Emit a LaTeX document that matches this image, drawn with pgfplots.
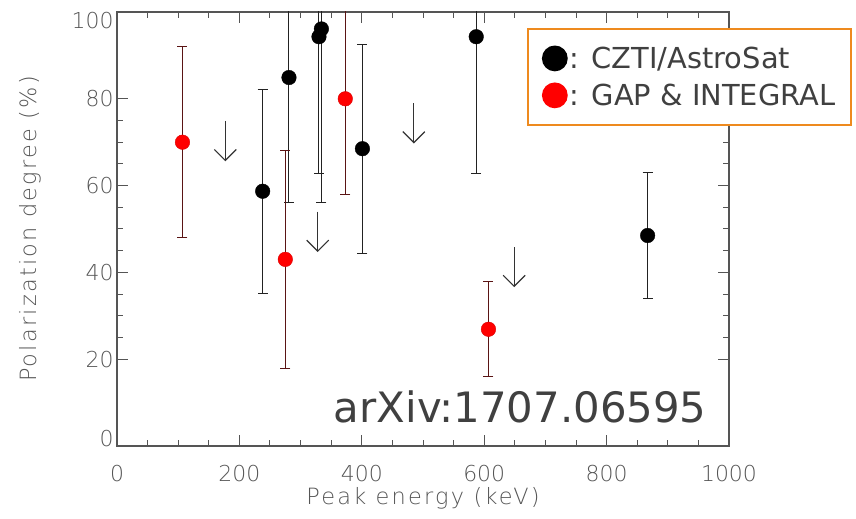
\documentclass[border=0pt]{standalone}
\usepackage{fontspec}
\usepackage{pgfplots}
\usepackage{pgfplotstable}
\pgfplotsset{compat=1.18}
\usetikzlibrary{arrows.meta}
\setmainfont{DejaVu Sans}
\newfontfamily\thinfont{DejaVu Sans ExtraLight}
\newfontfamily\thinlabelfont[LetterSpace=10]{DejaVu Sans ExtraLight}

\definecolor{axisgray}{HTML}{555555}
\definecolor{textgray}{HTML}{404040}
\definecolor{legorange}{HTML}{EE8A1E}
\definecolor{errred}{HTML}{5A1414}
\definecolor{errblack}{HTML}{222222}
\definecolor{arrowgray}{HTML}{333333}

% CZTI/AstroSat: peak energy (keV), polarization degree (%), 1-sigma error
\pgfplotstableread{
x    y     e
238  58.7  23.5
281  84.9  28.8
330  94.3  31.5
334  96.1  40.0
401  68.5  24.1
587  94.3  31.4
867  48.5  14.6
}\czti

% GAP and INTEGRAL measurements
\pgfplotstableread{
x    y     e
107  70.0  22.0
275  43.0  25.1
373  80.0  22.1
607  26.9  11.0
}\gapint

% upper limits (start of the arrow) and arrow length
\pgfplotstableread{
x    y     v
177  74.9  -9.3
328  54.0  -9.3
485  79.0  -9.3
649  45.8  -9.2
}\ulim

\begin{document}
\begin{tikzpicture}
\begin{axis}[
  name=ax,
  width=612bp, height=434bp, scale only axis,
  xmin=0, xmax=1000, ymin=0, ymax=100,
  xtick={0,200,...,1000}, minor x tick num=3,
  ytick={20,40,60,80}, minor y tick num=3,
  extra y ticks={0,100},
  extra y tick labels={\smash{0},\smash{\raisebox{-\height}{100}}},
  tick align=inside,
  major tick length=11bp, minor tick length=6bp,
  axis line style={axisgray, line width=1.3bp},
  tick style={axisgray, line width=1bp},
  /pgf/number format/assume math mode=true,
  /pgf/number format/1000 sep={},
  ticklabel style={font=\thinfont\fontsize{22}{26}\selectfont, text=axisgray},
  xticklabel style={yshift=-16bp},
  xlabel={Peak energy (keV)},
  ylabel={Polarization degree (\%)},
  label style={font=\thinlabelfont\fontsize{22.5}{26}\selectfont, text=axisgray},
  xlabel style={at={(axis description cs:0.5,-0.134)}, anchor=base},
  ylabel style={at={(axis description cs:-0.131,0.5)}, anchor=base},
  legend style={at={(axis description cs:0.67,0.963)}, anchor=north west,
    draw=legorange, line width=1.8bp, fill=white, text=textgray,
    font=\fontsize{29}{34}\selectfont,
    inner xsep=14bp, inner ysep=16bp, row sep=10bp,
    nodes={inner sep=2bp}},
  legend cell align=left,
]
\addplot[only marks, mark=*, mark size=7.3bp, black, forget plot,
  error bars/.cd, y dir=both, y explicit,
  error bar style={errblack, line width=1bp},
  error mark options={rotate=90, mark size=5bp, errblack, line width=1bp}]
  table[x=x, y=y, y error=e] {\czti};

\addplot[only marks, mark=*, mark size=7.3bp, draw=red!85!black, fill=red, forget plot,
  error bars/.cd, y dir=both, y explicit,
  error bar style={errred, line width=1bp},
  error mark options={rotate=90, mark size=5bp, errred, line width=1bp}]
  table[x=x, y=y, y error=e] {\gapint};

\addplot[no markers, arrowgray, line width=1.2bp, forget plot,
  -{Straight Barb[length=11bp, width=22bp]},
  quiver={u=0, v=\thisrow{v}}]
  table[x=x, y=y] {\ulim};

\addlegendimage{legend image code/.code={\fill[black] (0bp,0bp) circle (12bp);}}
\addlegendentry{: CZTI/AstroSat}
\addlegendimage{legend image code/.code={\fill[red] (0bp,0bp) circle (12bp);}}
\addlegendentry{: GAP \& INTEGRAL}

\node[anchor=base east, font=\fontsize{42}{48}\selectfont, text=textgray]
  at (axis cs:969,5.3) {arXiv:1707.06595};
\end{axis}
\pgfresetboundingbox
\path[use as bounding box] ([shift={(-117bp,-73bp)}]ax.south west)
  rectangle ([shift={(127bp,12bp)}]ax.north east);
\end{tikzpicture}
\end{document}
